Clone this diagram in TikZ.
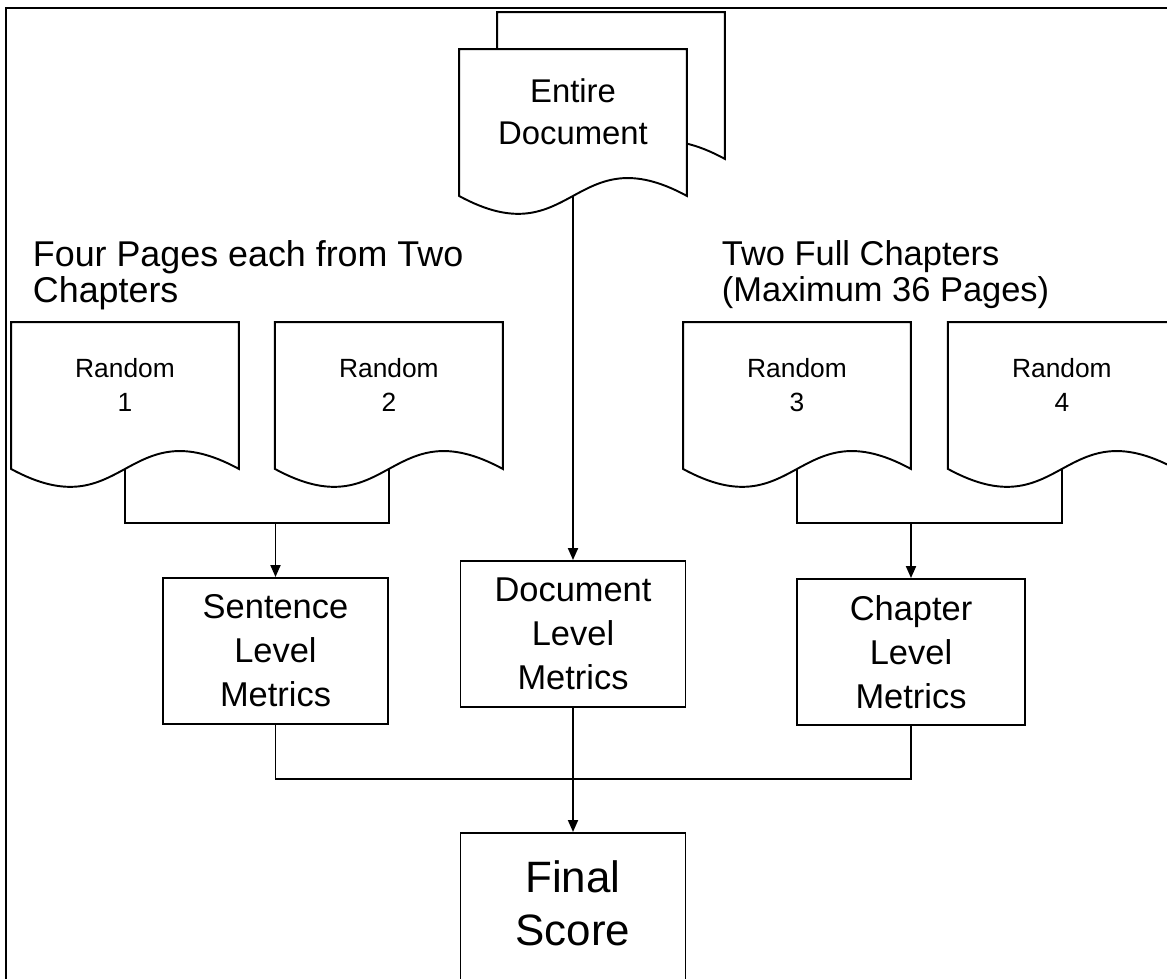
\documentclass[tikz,border=0pt]{standalone}
\usepackage{fontspec}
\setmainfont{Liberation Sans}
\usetikzlibrary{positioning,calc,arrows.meta}

\begin{document}
\begin{tikzpicture}[
    x=0.02cm, y=-0.02cm,
    line width=1.1pt,
    node distance=0.72cm,
    docpage/.style={inner sep=0pt,minimum width=4.52cm,
      text height=1.78cm,text depth=1.12cm,align=center,
      font=\fontsize{15}{19.9}\selectfont,
      append after command={\pgfextra{
        \draw[fill=white] (\tikzlastnode.north west) -- (\tikzlastnode.north east)
          -- (\tikzlastnode.south east)
          .. controls ($(\tikzlastnode.south)+(0,-62)$) and ($(\tikzlastnode.south)+(0,62)$)
          .. (\tikzlastnode.south west) -- cycle;}}},
    metricbox/.style={draw,inner sep=0pt,minimum width=4.5cm,minimum height=2.92cm,
      align=center,font=\fontsize{19.6}{25}\selectfont},
    heading/.style={anchor=north west,inner sep=0pt,align=left,
      font=\fontsize{19.6}{20}\selectfont},
    arrow/.style={-{Triangle[length=0.24cm,width=0.2cm]}}
  ]
    % frame
    \useasboundingbox (0,0) rectangle (1167,979);
    \clip (0,0) rectangle (1167,979);
    \draw (6,8) rectangle (1200,1010);

    % whole document, two pages stacked
    \node[docpage] (entireback) at (611,85.5) {};
    \node[docpage,text height=1.9cm,text depth=1.0cm,
      font=\fontsize{18.7}{24.4}\selectfont] (entire) at (573,122.5) {Entire\\Document};

    \node[heading,font=\fontsize{20.4}{20}\selectfont] (pagesnote) at (32,240) {Four Pages each from Two\\Chapters};
    \node[heading] (chapnote) at (721,240) {Two Full Chapters\\(Maximum 36 Pages)};

    % random samples
    \node[docpage] (rand1) at (125,395.5) {Random\\1};
    \node[docpage,right=of rand1] (rand2) {Random\\2};
    \node[docpage] (rand3) at (797,395.5) {Random\\3};
    \node[docpage,right=0.74cm of rand3] (rand4) {Random\\4};

    % metrics
    \node[metricbox] (sentence) at (275.5,651) {Sentence\\Level\\Metrics};
    \node[metricbox] (docmetrics) at (573,634) {Document\\Level\\Metrics};
    \node[metricbox,minimum width=4.56cm] (chapter) at (911,652) {Chapter\\Level\\Metrics};
    \node[metricbox,anchor=north,minimum height=0pt,inner ysep=0.56cm,text depth=5cm,
      font=\fontsize{25}{30}\selectfont] (final) at (573,832) {Final\\Score};

    \coordinate (sentjoin) at (275.5,523);
    \coordinate (chapjoin) at (911,523);
    \coordinate (scorejoin) at (573,779);

    \draw (rand1.south) |- (sentjoin) -| (rand2.south);
    \draw[arrow] (sentjoin) -- (sentence.north);
    \draw (rand3.south) |- (chapjoin) -| (rand4.south);
    \draw[arrow] (chapjoin) -- (chapter.north);
    \draw[arrow] (entire.south) -- (docmetrics.north);
    \draw (sentence.south) |- (scorejoin) -| (chapter.south);
    \draw[arrow] (docmetrics.south) -- (final.north);
\end{tikzpicture}
\end{document}
